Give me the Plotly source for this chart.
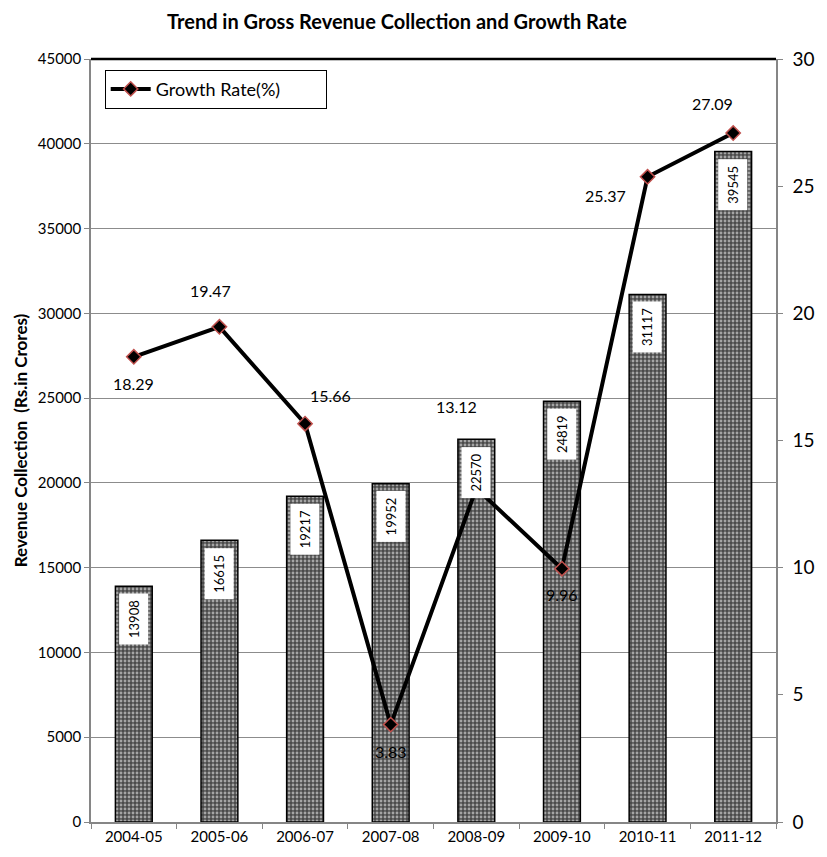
import plotly.graph_objects as go

years = ["2004-05", "2005-06", "2006-07", "2007-08", "2008-09", "2009-10", "2010-11", "2011-12"]
revenue = [13908, 16615, 19217, 19952, 22570, 24819, 31117, 39545]
growth = [18.29, 19.47, 15.66, 3.83, 13.12, 9.96, 25.37, 27.09]

# label offsets (style only): (xshift, yshift) in px
growth_label_offsets = [(0, -27), (-9, 36), (25, 28), (0, -27), (-20, 82), (0, -26), (-42, -19), (-21, 30)]

FONT = "Lato"

fig = go.Figure()

fig.add_trace(go.Bar(
    x=years, y=revenue, name="Revenue",
    width=0.43,
    marker=dict(
        color="#4a4a4a",
        line=dict(color="black", width=1.5),
        pattern=dict(shape=".", fgcolor="white", bgcolor="#4a4a4a", size=4, solidity=0.4),
    ),
    showlegend=False,
    yaxis="y",
))

fig.add_trace(go.Scatter(
    x=years, y=growth, name="Growth Rate(%)",
    mode="lines+markers",
    line=dict(color="black", width=4),
    marker=dict(symbol="diamond", size=11, color="black", line=dict(color="#C0504D", width=1.5)),
    yaxis="y2",
))

annotations = []
for yr, v in zip(years, revenue):
    annotations.append(dict(
        x=yr, y=v, xref="x", yref="y", text=str(v), textangle=-90,
        showarrow=False, bgcolor="white", borderpad=6,
        yanchor="top", xanchor="center", yshift=-7,
        font=dict(family=FONT, size=13, color="black"),
    ))
for yr, g, (dx, dy) in zip(years, growth, growth_label_offsets):
    annotations.append(dict(
        x=yr, y=g, xref="x", yref="y2", text=f"{g:.2f}",
        showarrow=False, xshift=dx, yshift=dy,
        font=dict(family=FONT, size=16, color="black"),
    ))

fig.update_layout(
    width=827, height=857,
    margin=dict(l=91, r=44, t=59, b=30),
    paper_bgcolor="white", plot_bgcolor="white",
    font=dict(family=FONT, color="black"),
    title=dict(
        text="<b>Trend in Gross Revenue Collection and Growth Rate</b>",
        x=0.48, xref="container", xanchor="center",
        y=1 - 22 / 857, yref="container", yanchor="middle",
        font=dict(family=FONT, size=20, color="black"),
    ),
    xaxis=dict(
        type="category",
        showline=True, linecolor="#868686", linewidth=1.5,
        ticks="outside", ticklen=5, tickcolor="#868686", tickson="boundaries",
        tickfont=dict(family=FONT, size=15, color="black"),
        showgrid=False,
    ),
    yaxis=dict(
        range=[0, 45000], dtick=5000, tick0=0, tickformat="d",
        showline=True, linecolor="#868686", linewidth=1.5,
        ticks="outside", ticklen=5, tickcolor="#868686",
        showgrid=True, gridcolor="#8c8c8c", gridwidth=1,
        zeroline=False,
        tickfont=dict(family=FONT, size=15, color="black"),
        title=dict(text="<b>Revenue Collection  (Rs.in Crores)</b>", standoff=6,
                   font=dict(family=FONT, size=17, color="black")),
    ),
    yaxis2=dict(
        range=[0, 30], dtick=5, tick0=0,
        overlaying="y", side="right",
        showline=True, linecolor="#868686", linewidth=1.5,
        ticks="outside", ticklen=5, tickcolor="#868686",
        showgrid=False, zeroline=False,
        ticklabelstandoff=6,
        tickfont=dict(family=FONT, size=19, color="black"),
    ),
    legend=dict(
        x=0.02, y=0.986, xanchor="left", yanchor="top",
        orientation="h", entrywidth=165,
        bgcolor="white", bordercolor="black", borderwidth=1,
        font=dict(family=FONT, size=18, color="black"),
        itemwidth=40,
    ),
    annotations=annotations,
    shapes=[dict(type="line", xref="paper", yref="paper", x0=0, x1=1, y0=1, y1=1,
                 line=dict(color="black", width=2.5))],
)

fig.write_html("out.html", config={"displayModeBar": False},
               post_script="document.body.style.margin='0';document.body.style.overflow='hidden';")
